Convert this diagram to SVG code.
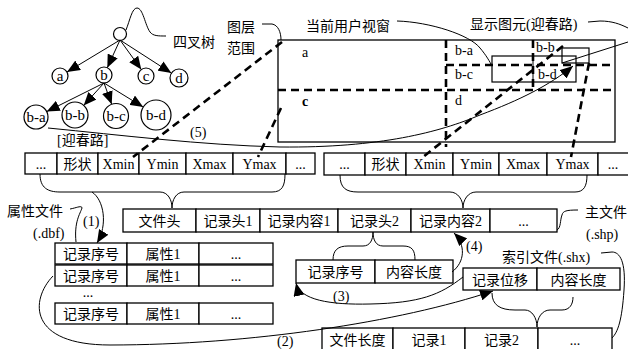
<svg xmlns="http://www.w3.org/2000/svg" width="628" height="349" viewBox="0 0 628 349">
<style>
.bx{fill:#fff;stroke:#000;stroke-width:1.3}
.t{font-family:"Liberation Serif","Noto Sans CJK SC",serif;font-size:14px;text-anchor:middle;fill:#000}
.l{font-family:"Liberation Serif","Noto Sans CJK SC",serif;font-size:14px;fill:#000}
.n{fill:#fff;stroke:#000;stroke-width:1.2}
.nt{font-family:"Liberation Serif",serif;font-size:15px;text-anchor:middle;fill:#000}
.ln{fill:none;stroke:#000;stroke-width:1}
.ds{fill:none;stroke:#000;stroke-width:2.6;stroke-dasharray:8 5}
</style>
<defs>
<marker id="ah" markerUnits="userSpaceOnUse" markerWidth="14" markerHeight="11" refX="13" refY="5.5" orient="auto">
<path d="M0,0 L13,5.5 L0,11 Z" fill="#000"/>
</marker>
</defs>
<rect width="628" height="349" fill="#fff"/>

<g id="layer-extent">
<rect class="bx" x="278" y="40" width="337" height="102"/>
<rect x="492" y="56" width="84" height="26" fill="none" stroke="#000" stroke-width="1.2"/>
<line class="ln" x1="533" y1="56" x2="533" y2="82" stroke-width="1.2"/>
<rect x="562" y="48" width="27" height="15" fill="none" stroke="#000" stroke-width="1.2"/>
<text class="l" x="302" y="57">a</text>
<text class="l" x="302" y="106" font-weight="bold">c</text>
<text class="l" x="455" y="55">b-a</text>
<text class="l" x="536" y="52">b-b</text>
<text class="l" x="455" y="79">b-c</text>
<text class="l" x="538" y="79">b-d</text>
<text class="l" x="455" y="105">d</text>
</g>

<g id="quadtree">
<circle class="n" cx="120" cy="34" r="6.5"/>
<g id="node-a"><circle class="n" cx="60" cy="76" r="8"/><text class="nt" x="60" y="81">a</text></g>
<g id="node-b"><circle class="n" cx="104" cy="75" r="8"/><text class="nt" x="104" y="80">b</text></g>
<g id="node-c"><circle class="n" cx="146" cy="76" r="8"/><text class="nt" x="146" y="81">c</text></g>
<g id="node-d"><circle class="n" cx="179" cy="78" r="9"/><text class="nt" x="179" y="83">d</text></g>
<g id="node-ba"><circle class="n" cx="36" cy="117" r="12"/><text class="nt" x="36" y="122">b-a</text></g>
<g id="node-bb"><circle class="n" cx="75" cy="115" r="13"/><text class="nt" x="75" y="120">b-b</text></g>
<g id="node-bc"><circle class="n" cx="116" cy="116" r="12.5"/><text class="nt" x="116" y="121">b-c</text></g>
<g id="node-bd"><circle class="n" cx="156" cy="115" r="15"/><text class="nt" x="156" y="120">b-d</text></g>
<text class="l" x="173" y="47">四叉树</text>
<text class="l" x="57" y="145">[迎春路]</text>
</g>

<g id="labels">
<text class="l" x="227" y="32">图层</text>
<text class="l" x="227" y="53">范围</text>
<text class="l" x="306" y="31">当前用户视窗</text>
<text class="l" x="470" y="29">显示图元(迎春路)</text>
<text class="l" x="190" y="137">(5)</text>
<text class="l" x="7" y="216">属性文件</text>
<text class="l" x="33" y="238">(.dbf)</text>
<text class="l" x="83" y="226">(1)</text>
<text class="l" x="585" y="217">主文件</text>
<text class="l" x="586" y="239">(.shp)</text>
<text class="l" x="502" y="262">索引文件(.shx)</text>
<text class="l" x="333" y="301">(3)</text>
<text class="l" x="466" y="251">(4)</text>
<text class="l" x="277" y="346">(2)</text>
</g>

<g id="record-left">
<rect class="bx" x="25" y="153" width="32" height="21"/>
<rect class="bx" x="57" y="153" width="41" height="21"/>
<rect class="bx" x="98" y="153" width="41" height="21"/>
<rect class="bx" x="139" y="153" width="47" height="21"/>
<rect class="bx" x="186" y="153" width="47" height="21"/>
<rect class="bx" x="233" y="153" width="53" height="21"/>
<rect class="bx" x="286" y="153" width="29" height="21"/>
<text class="t" x="41" y="169">...</text>
<text class="t" x="77.5" y="169">形状</text>
<text class="t" x="118.5" y="169">Xmin</text>
<text class="t" x="162.5" y="169">Ymin</text>
<text class="t" x="209.5" y="169">Xmax</text>
<text class="t" x="259.5" y="169">Ymax</text>
<text class="t" x="300.5" y="169">...</text>
</g>

<g id="record-right">
<rect class="bx" x="324" y="153" width="41" height="22"/>
<rect class="bx" x="365" y="153" width="41" height="22"/>
<rect class="bx" x="406" y="153" width="47" height="22"/>
<rect class="bx" x="453" y="153" width="46" height="22"/>
<rect class="bx" x="499" y="153" width="48" height="22"/>
<rect class="bx" x="547" y="153" width="51" height="22"/>
<rect class="bx" x="598" y="153" width="32" height="22"/>
<text class="t" x="344.5" y="169">...</text>
<text class="t" x="385.5" y="169">形状</text>
<text class="t" x="429.5" y="169">Xmin</text>
<text class="t" x="476" y="169">Ymin</text>
<text class="t" x="523" y="169">Xmax</text>
<text class="t" x="572.5" y="169">Ymax</text>
<text class="t" x="613" y="169">...</text>
</g>

<g id="main-file">
<rect class="bx" x="123" y="209" width="73" height="23"/>
<rect class="bx" x="196" y="209" width="64" height="23"/>
<rect class="bx" x="260" y="209" width="78" height="23"/>
<rect class="bx" x="338" y="209" width="73" height="23"/>
<rect class="bx" x="411" y="209" width="79" height="23"/>
<rect class="bx" x="490" y="209" width="67" height="23"/>
<text class="t" x="159.5" y="226">文件头</text>
<text class="t" x="228" y="226">记录头1</text>
<text class="t" x="299" y="226">记录内容1</text>
<text class="t" x="374.5" y="226">记录头2</text>
<text class="t" x="450.5" y="226">记录内容2</text>
<text class="t" x="523.5" y="226">...</text>
</g>

<g id="record-header">
<rect class="bx" x="296" y="260" width="79" height="23"/>
<rect class="bx" x="375" y="260" width="78" height="23"/>
<text class="t" x="335.5" y="277">记录序号</text>
<text class="t" x="414" y="277">内容长度</text>
</g>

<g id="index-record">
<rect class="bx" x="463" y="268" width="74" height="22"/>
<rect class="bx" x="537" y="268" width="83" height="22"/>
<text class="t" x="500" y="285">记录位移</text>
<text class="t" x="578.5" y="285">内容长度</text>
</g>

<g id="index-file">
<rect class="bx" x="322" y="328" width="71" height="25"/>
<rect class="bx" x="393" y="328" width="72" height="25"/>
<rect class="bx" x="465" y="328" width="73" height="25"/>
<rect class="bx" x="538" y="328" width="74" height="25"/>
<text class="t" x="357.5" y="345">文件长度</text>
<text class="t" x="429" y="345">记录1</text>
<text class="t" x="501.5" y="345">记录2</text>
<text class="t" x="575" y="345">...</text>
</g>

<g id="attribute-file">
<rect class="bx" x="55" y="243" width="72" height="21"/>
<rect class="bx" x="127" y="243" width="72" height="21"/>
<rect class="bx" x="199" y="243" width="74" height="21"/>
<rect class="bx" x="55" y="265" width="72" height="21"/>
<rect class="bx" x="127" y="265" width="72" height="21"/>
<rect class="bx" x="199" y="265" width="74" height="21"/>
<rect class="bx" x="55" y="303" width="72" height="21"/>
<rect class="bx" x="127" y="303" width="72" height="21"/>
<rect class="bx" x="199" y="303" width="74" height="21"/>
<text class="t" x="91" y="259">记录序号</text>
<text class="t" x="163" y="259">属性1</text>
<text class="t" x="236" y="259">...</text>
<text class="t" x="91" y="281">记录序号</text>
<text class="t" x="163" y="281">属性1</text>
<text class="t" x="236" y="281">...</text>
<text class="t" x="88" y="297">...</text>
<text class="t" x="91" y="319">记录序号</text>
<text class="t" x="163" y="319">属性1</text>
<text class="t" x="236" y="319">...</text>
</g>

<g id="connectors">
<line class="ln" x1="120" y1="40" x2="67" y2="72" marker-end="url(#ah)"/>
<line class="ln" x1="120" y1="40" x2="107.3" y2="67.7" marker-end="url(#ah)"/>
<line class="ln" x1="120" y1="40" x2="141.3" y2="69.5" marker-end="url(#ah)"/>
<line class="ln" x1="120" y1="40" x2="171.4" y2="73.1" marker-end="url(#ah)"/>
<line class="ln" x1="104" y1="83" x2="46.7" y2="111.6" marker-end="url(#ah)"/>
<line class="ln" x1="104" y1="83" x2="83.7" y2="105.4" marker-end="url(#ah)"/>
<line class="ln" x1="104" y1="83" x2="111.7" y2="104.3" marker-end="url(#ah)"/>
<line class="ln" x1="104" y1="83" x2="143.2" y2="107.1" marker-end="url(#ah)"/>
<path class="ln" d="M126,30 C130,20 132,8 137,8 C143,8 145,25 150,32 C153,36 158,36 166,36"/>
<path class="ln" d="M262,24 L272,24 C278,25 281,32 281,40"/>
<path class="ln" d="M397,21 C430,22 470,35 480,48 C486,55 490,62 492,66"/>
<path class="ln" d="M588,22 L600,21 C612,21 620,24 628,28"/>
<line class="ln" x1="628" y1="42" x2="562" y2="63"/>
<path class="ln" d="M557,230 C561,228 560,220 562,215 C563,211 566,210 578,210"/>
<path class="ln" d="M601,253 L612,252 C620,252 626,262 624,290 C622,320 618,332 612,338"/>
<path class="ln" d="M70,209 C76,208 82,205 82,208 C80,214 74,222 76,242"/>
<line class="ds" x1="278" y1="90" x2="615" y2="90"/>
<line class="ds" x1="446" y1="40" x2="446" y2="147"/>
<line class="ds" x1="446" y1="65" x2="615" y2="65"/>
<line class="ds" x1="533" y1="40" x2="533" y2="90"/>
<line class="ds" x1="282" y1="42" x2="133" y2="157"/>
<line class="ds" x1="281" y1="108" x2="258" y2="157"/>
<line class="ds" x1="563" y1="46" x2="423" y2="157"/>
<line class="ds" x1="589" y1="63" x2="571" y2="157"/>
<path class="ln" d="M48,128 C120,135 200,145 280,147 C380,148 440,132 480,115 C520,100 550,85 573,66" marker-end="url(#ah)"/>
<path class="ln" d="M40,174 C40,188 48,192 60,192 L160,192 C168,192 172,200 172,208 C172,200 176,192 184,192 L272,192 C282,192 285,186 285,174"/>
<path class="ln" d="M340,175 C340,188 346,192 358,192 L450,192 C458,192 463,200 463,208 C463,200 468,192 476,192 L575,192 C584,192 587,186 587,175"/>
<path class="ln" d="M333,260 C333,250 338,246 348,246 L363,246 C370,246 373,240 373,232 C373,240 376,246 383,246 L403,246 C412,246 415,250 415,260"/>
<path class="ln" d="M492,293 C492,305 500,310 515,310 L525,310 C532,310 537,318 537,327 C537,318 542,310 550,310 L562,310 C570,310 573,304 573,297"/>
<path class="ln" d="M92,192 C104,200 108,225 97,243" marker-end="url(#ah)"/>
<path class="ln" d="M53,276 C30,300 28,345 110,345 C250,345 400,322 493,291" marker-end="url(#ah)"/>
<path class="ln" d="M463,277 C440,295 420,303 370,304 C330,305 300,300 296,283" marker-end="url(#ah)"/>
<path class="ln" d="M452,272 C465,262 466,245 454,233" marker-end="url(#ah)"/>
</g>
</svg>
